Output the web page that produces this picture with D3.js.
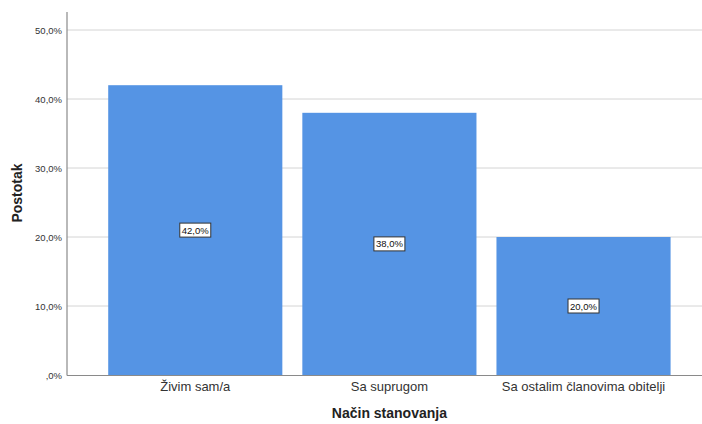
<!DOCTYPE html>
<html>
<head>
<meta charset="utf-8">
<script src="https://cdn.jsdelivr.net/npm/d3@7"></script>
<style>
  body { margin: 0; background: #fff; }
  text { font-family: "Liberation Sans", Arial, sans-serif; }
</style>
</head>
<body>
<svg width="702" height="424"></svg>
<script>
// data
const categories = ['Živim sam/a', 'Sa suprugom', 'Sa ostalim članovima obitelji'];
const percents = [42.0, 38.0, 20.0];
const yTicks = [0, 10, 20, 30, 40, 50];

const fmt = v => (v === 0 ? '' : String(Math.floor(v))) + ',' + Math.round((v % 1) * 10) + '%';

const $svg = d3.select('svg');

const x = d3.scaleBand()
  .domain(categories)
  .range([88.8, 690])
  .paddingInner(0.103)
  .paddingOuter(0.1);

const y = d3.scaleLinear()
  .domain([0, 50])
  .range([375, 30]);

// gridlines
$svg.append('g')
  .selectAll('line')
  .data(yTicks.filter(d => d > 0))
  .enter()
  .append('line')
    .attr('x1', 67).attr('x2', 702)
    .attr('y1', d => y(d)).attr('y2', d => y(d))
    .attr('stroke', '#d4d4d4')
    .attr('stroke-width', 1);

// bars
$svg.append('g')
  .selectAll('rect')
  .data(percents)
  .enter()
  .append('rect')
    .attr('x', (d, i) => x(categories[i]))
    .attr('y', d => y(d))
    .attr('width', x.bandwidth())
    .attr('height', d => y(0) - y(d))
    .attr('fill', '#5594e4');

// axes lines
$svg.append('line')
  .attr('x1', 67).attr('x2', 67).attr('y1', 12).attr('y2', 375.5)
  .attr('stroke', '#8a8a8a').attr('stroke-width', 1.2);
$svg.append('line')
  .attr('x1', 67).attr('x2', 702).attr('y1', 375.5).attr('y2', 375.5)
  .attr('stroke', '#8a8a8a').attr('stroke-width', 1.2);

// y tick labels
$svg.append('g')
  .selectAll('text')
  .data(yTicks)
  .enter()
  .append('text')
    .attr('x', 62)
    .attr('y', d => y(d) + 3.5)
    .attr('text-anchor', 'end')
    .attr('font-size', 9.5)
    .attr('fill', '#333')
    .text(fmt);

// x category labels
$svg.append('g')
  .selectAll('text')
  .data(categories)
  .enter()
  .append('text')
    .attr('x', d => x(d) + x.bandwidth() / 2)
    .attr('y', 391)
    .attr('text-anchor', 'middle')
    .attr('font-size', 13)
    .attr('fill', '#333')
    .text(d => d);

// value labels in boxes
const lab = $svg.append('g')
  .selectAll('g')
  .data(percents)
  .enter()
  .append('g')
    .attr('transform', (d, i) => 'translate(' + (x(categories[i]) + x.bandwidth() / 2) + ',' + ((y(d) + y(0)) / 2) + ')');
lab.append('rect')
  .attr('x', -15.5).attr('y', -7)
  .attr('width', 31).attr('height', 14)
  .attr('fill', '#fff')
  .attr('stroke', '#333')
  .attr('stroke-width', 1);
lab.append('text')
  .attr('y', 3.5)
  .attr('text-anchor', 'middle')
  .attr('font-size', 9.5)
  .attr('fill', '#111')
  .text(d => d.toFixed(1).replace('.', ',') + '%');

// axis titles
$svg.append('text')
  .attr('x', x.range()[0] + (x.range()[1] - x.range()[0]) / 2)
  .attr('y', 418)
  .attr('text-anchor', 'middle')
  .attr('font-size', 14)
  .attr('font-weight', 'bold')
  .attr('fill', '#222')
  .text('Način stanovanja');

$svg.append('text')
  .attr('transform', 'translate(22,193) rotate(-90)')
  .attr('text-anchor', 'middle')
  .attr('font-size', 14)
  .attr('font-weight', 'bold')
  .attr('fill', '#222')
  .text('Postotak');
</script>
</body>
</html>
